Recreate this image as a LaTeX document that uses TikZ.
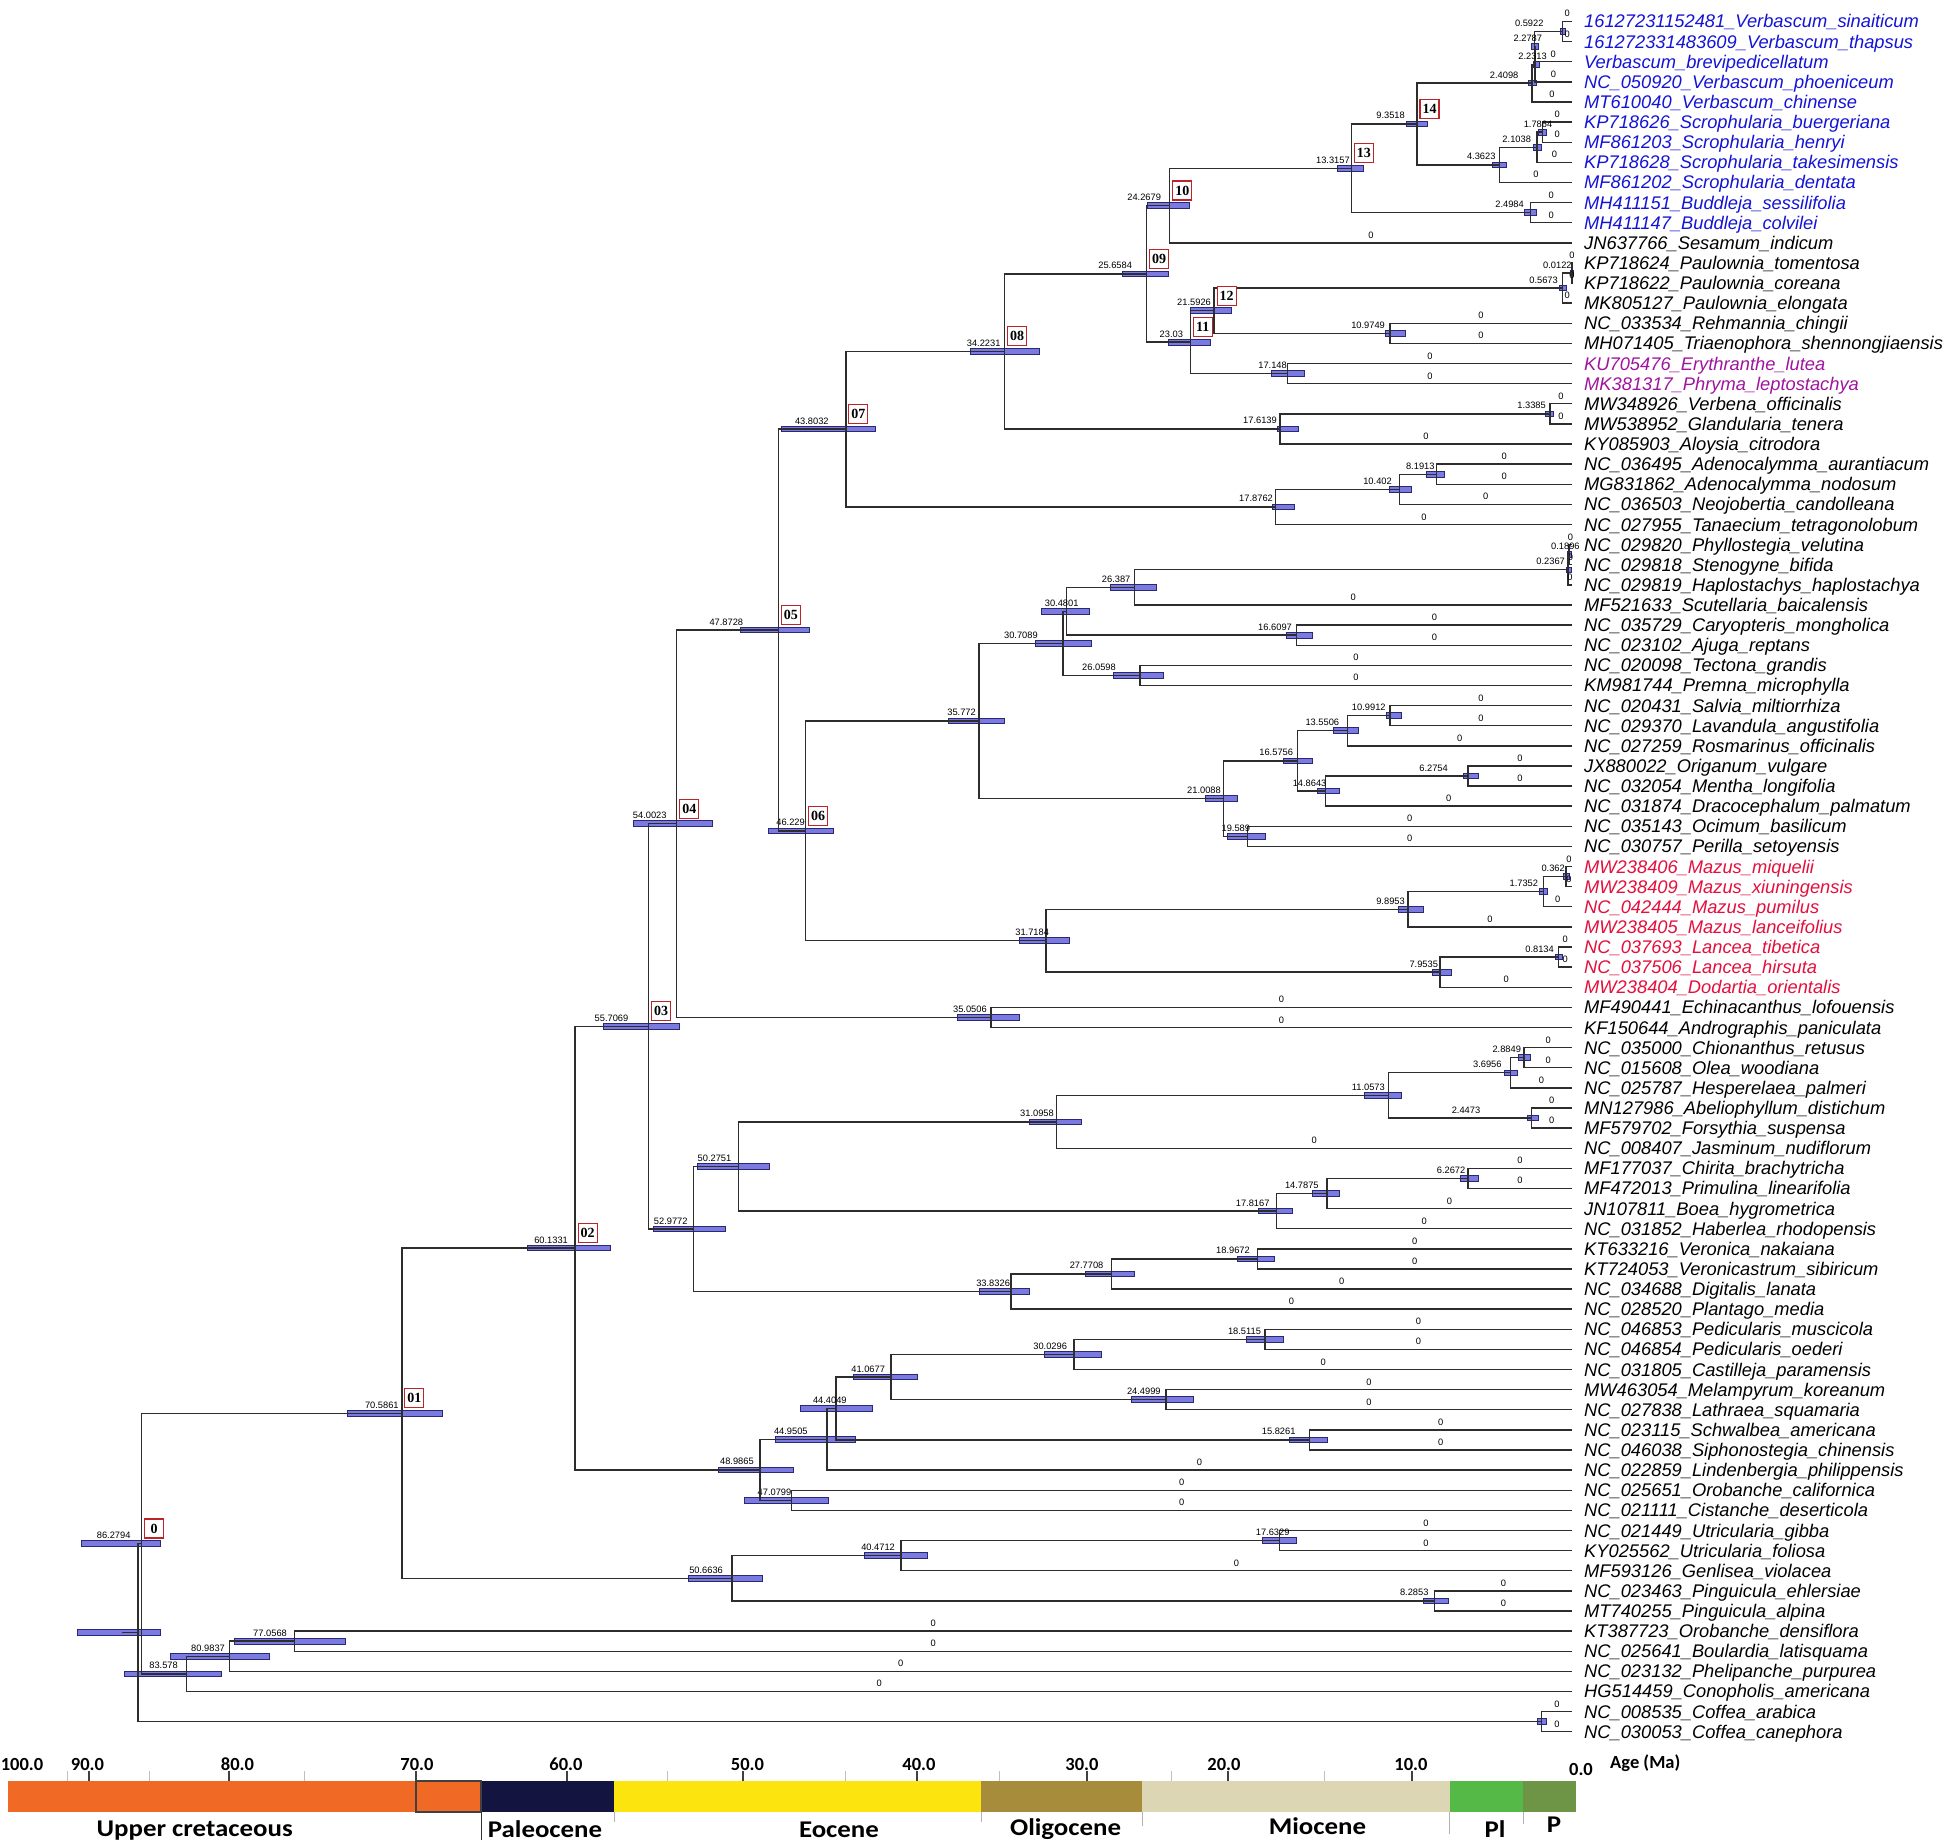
\documentclass[tikz,border=0pt]{standalone}
\usepackage{fontspec}
\setmainfont{Liberation Sans}
\newfontfamily\boxfont{Liberation Serif}
\newfontfamily\axfont{Carlito}
\newfontfamily\perfont{Carlito}[FakeStretch=1.12]
\usetikzlibrary{calc}
\pgfdeclarelayer{bgwhite}
\pgfdeclarelayer{bg}
\pgfsetlayers{bgwhite,bg,main}
\definecolor{lblue}{RGB}{20,20,215}
\definecolor{lpurp}{RGB}{160,20,160}
\definecolor{lred}{RGB}{228,15,60}
\definecolor{hpdf}{RGB}{122,122,225}
\definecolor{hpdd}{RGB}{40,40,115}
\definecolor{boxr}{RGB}{190,35,40}
\definecolor{brc}{RGB}{45,45,45}
\definecolor{gOr}{RGB}{240,106,37}
\definecolor{gNa}{RGB}{20,20,65}
\definecolor{gYe}{RGB}{252,228,15}
\definecolor{gOl}{RGB}{167,140,60}
\definecolor{gBe}{RGB}{220,214,181}
\definecolor{gGr}{RGB}{85,185,71}
\definecolor{gDg}{RGB}{110,149,70}
\tikzset{
  br/.style={draw=brc, line width=1.4pt, line join=miter},
  hpd/.style={fill=hpdf, draw=hpdd, line width=0.9pt},
  leaf/.style={anchor=base west, inner sep=0pt, font=\fontsize{18.3}{20}\selectfont\itshape},
  agel/.style={anchor=base east, inner sep=0pt, font=\fontsize{9.3}{10}\selectfont},
  zl/.style={anchor=base, inner sep=0pt, yshift=4.5pt, font=\fontsize{9.3}{10}\selectfont},
  numbox/.style={draw=boxr, line width=1.1pt, fill=white, minimum width=19pt, minimum height=19pt,
     inner sep=0pt, anchor=south west, font={\boxfont\fontsize{14}{14}\bfseries\selectfont}},
  majtick/.style={draw=black!75, line width=1.1pt},
  mintick/.style={draw=black!25, line width=0.9pt},
  ticklab/.style={anchor=base, inner sep=0pt, font={\axfont\fontsize{18.5}{20}\bfseries\selectfont}},
  perlab/.style={anchor=base, inner sep=0pt, font={\perfont\fontsize{24}{26}\bfseries\selectfont}},
}
% leaf: index, text, colour
\newcommand\TLeaf[3]{%
  \coordinate (L#1) at (1572,{21.5+20.12*(#1-1)});
  \node[leaf,text=#3] (t#1) at (1584,{21.5+20.12*(#1-1)+6.5}) {#2};
  \expandafter\gdef\csname isleaf@L#1\endcsname{}}
% internal node core: name, age, child1, child2, bar left, bar right
\newcommand\TNodeC[6]{%
  \path let \p1=($(#3)!0.5!(#4)$) in coordinate (#1) at ({(1572-16.578*#2)*1pt},\y1);
  \begin{pgfonlayer}{bg}
  \draw[hpd] let \p1=(#1) in ({#5pt},{\y1-2.8pt}) rectangle ({#6pt},{\y1+2.8pt});
  \end{pgfonlayer}
  \draw[br] (#3) -- (#1 |- #3) -- (#1 |- #4) -- (#4);
  \ifcsname isleaf@#3\endcsname \path (#1 |- #3) -- node[zl]{0} (#3);\fi
  \ifcsname isleaf@#4\endcsname \path (#1 |- #4) -- node[zl]{0} (#4);\fi}
% labelled node: + label gap
\newcommand\TNode[7]{%
  \TNodeC{#1}{#2}{#3}{#4}{#5}{#6}%
  \node[agel] (a#1) at ([xshift={-1*(#7)*1pt},yshift=5pt]#1) {#2};}
\newcommand\TBox[2]{\node[numbox] (b#1) at ([xshift=2.5pt,yshift=5pt]#1) {#2};}
\begin{document}
\begin{tikzpicture}[x=1pt,y=-1pt]
\useasboundingbox (0,0) rectangle (1944,1844);
\begin{pgfonlayer}{bgwhite}
\fill[white] (0,0) rectangle (1944,1844);
\end{pgfonlayer}
% ---------------- leaves
\TLeaf{1}{16127231152481\_Verbascum\_sinaiticum}{lblue}
\TLeaf{2}{161272331483609\_Verbascum\_thapsus}{lblue}
\TLeaf{3}{Verbascum\_brevipedicellatum}{lblue}
\TLeaf{4}{NC\_050920\_Verbascum\_phoeniceum}{lblue}
\TLeaf{5}{MT610040\_Verbascum\_chinense}{lblue}
\TLeaf{6}{KP718626\_Scrophularia\_buergeriana}{lblue}
\TLeaf{7}{MF861203\_Scrophularia\_henryi}{lblue}
\TLeaf{8}{KP718628\_Scrophularia\_takesimensis}{lblue}
\TLeaf{9}{MF861202\_Scrophularia\_dentata}{lblue}
\TLeaf{10}{MH411151\_Buddleja\_sessilifolia}{lblue}
\TLeaf{11}{MH411147\_Buddleja\_colvilei}{lblue}
\TLeaf{12}{JN637766\_Sesamum\_indicum}{black}
\TLeaf{13}{KP718624\_Paulownia\_tomentosa}{black}
\TLeaf{14}{KP718622\_Paulownia\_coreana}{black}
\TLeaf{15}{MK805127\_Paulownia\_elongata}{black}
\TLeaf{16}{NC\_033534\_Rehmannia\_chingii}{black}
\TLeaf{17}{MH071405\_Triaenophora\_shennongjiaensis}{black}
\TLeaf{18}{KU705476\_Erythranthe\_lutea}{lpurp}
\TLeaf{19}{MK381317\_Phryma\_leptostachya}{lpurp}
\TLeaf{20}{MW348926\_Verbena\_officinalis}{black}
\TLeaf{21}{MW538952\_Glandularia\_tenera}{black}
\TLeaf{22}{KY085903\_Aloysia\_citrodora}{black}
\TLeaf{23}{NC\_036495\_Adenocalymma\_aurantiacum}{black}
\TLeaf{24}{MG831862\_Adenocalymma\_nodosum}{black}
\TLeaf{25}{NC\_036503\_Neojobertia\_candolleana}{black}
\TLeaf{26}{NC\_027955\_Tanaecium\_tetragonolobum}{black}
\TLeaf{27}{NC\_029820\_Phyllostegia\_velutina}{black}
\TLeaf{28}{NC\_029818\_Stenogyne\_bifida}{black}
\TLeaf{29}{NC\_029819\_Haplostachys\_haplostachya}{black}
\TLeaf{30}{MF521633\_Scutellaria\_baicalensis}{black}
\TLeaf{31}{NC\_035729\_Caryopteris\_mongholica}{black}
\TLeaf{32}{NC\_023102\_Ajuga\_reptans}{black}
\TLeaf{33}{NC\_020098\_Tectona\_grandis}{black}
\TLeaf{34}{KM981744\_Premna\_microphylla}{black}
\TLeaf{35}{NC\_020431\_Salvia\_miltiorrhiza}{black}
\TLeaf{36}{NC\_029370\_Lavandula\_angustifolia}{black}
\TLeaf{37}{NC\_027259\_Rosmarinus\_officinalis}{black}
\TLeaf{38}{JX880022\_Origanum\_vulgare}{black}
\TLeaf{39}{NC\_032054\_Mentha\_longifolia}{black}
\TLeaf{40}{NC\_031874\_Dracocephalum\_palmatum}{black}
\TLeaf{41}{NC\_035143\_Ocimum\_basilicum}{black}
\TLeaf{42}{NC\_030757\_Perilla\_setoyensis}{black}
\TLeaf{43}{MW238406\_Mazus\_miquelii}{lred}
\TLeaf{44}{MW238409\_Mazus\_xiuningensis}{lred}
\TLeaf{45}{NC\_042444\_Mazus\_pumilus}{lred}
\TLeaf{46}{MW238405\_Mazus\_lanceifolius}{lred}
\TLeaf{47}{NC\_037693\_Lancea\_tibetica}{lred}
\TLeaf{48}{NC\_037506\_Lancea\_hirsuta}{lred}
\TLeaf{49}{MW238404\_Dodartia\_orientalis}{lred}
\TLeaf{50}{MF490441\_Echinacanthus\_lofouensis}{black}
\TLeaf{51}{KF150644\_Andrographis\_paniculata}{black}
\TLeaf{52}{NC\_035000\_Chionanthus\_retusus}{black}
\TLeaf{53}{NC\_015608\_Olea\_woodiana}{black}
\TLeaf{54}{NC\_025787\_Hesperelaea\_palmeri}{black}
\TLeaf{55}{MN127986\_Abeliophyllum\_distichum}{black}
\TLeaf{56}{MF579702\_Forsythia\_suspensa}{black}
\TLeaf{57}{NC\_008407\_Jasminum\_nudiflorum}{black}
\TLeaf{58}{MF177037\_Chirita\_brachytricha}{black}
\TLeaf{59}{MF472013\_Primulina\_linearifolia}{black}
\TLeaf{60}{JN107811\_Boea\_hygrometrica}{black}
\TLeaf{61}{NC\_031852\_Haberlea\_rhodopensis}{black}
\TLeaf{62}{KT633216\_Veronica\_nakaiana}{black}
\TLeaf{63}{KT724053\_Veronicastrum\_sibiricum}{black}
\TLeaf{64}{NC\_034688\_Digitalis\_lanata}{black}
\TLeaf{65}{NC\_028520\_Plantago\_media}{black}
\TLeaf{66}{NC\_046853\_Pedicularis\_muscicola}{black}
\TLeaf{67}{NC\_046854\_Pedicularis\_oederi}{black}
\TLeaf{68}{NC\_031805\_Castilleja\_paramensis}{black}
\TLeaf{69}{MW463054\_Melampyrum\_koreanum}{black}
\TLeaf{70}{NC\_027838\_Lathraea\_squamaria}{black}
\TLeaf{71}{NC\_023115\_Schwalbea\_americana}{black}
\TLeaf{72}{NC\_046038\_Siphonostegia\_chinensis}{black}
\TLeaf{73}{NC\_022859\_Lindenbergia\_philippensis}{black}
\TLeaf{74}{NC\_025651\_Orobanche\_californica}{black}
\TLeaf{75}{NC\_021111\_Cistanche\_deserticola}{black}
\TLeaf{76}{NC\_021449\_Utricularia\_gibba}{black}
\TLeaf{77}{KY025562\_Utricularia\_foliosa}{black}
\TLeaf{78}{MF593126\_Genlisea\_violacea}{black}
\TLeaf{79}{NC\_023463\_Pinguicula\_ehlersiae}{black}
\TLeaf{80}{MT740255\_Pinguicula\_alpina}{black}
\TLeaf{81}{KT387723\_Orobanche\_densiflora}{black}
\TLeaf{82}{NC\_025641\_Boulardia\_latisquama}{black}
\TLeaf{83}{NC\_023132\_Phelipanche\_purpurea}{black}
\TLeaf{84}{HG514459\_Conopholis\_americana}{black}
\TLeaf{85}{NC\_008535\_Coffea\_arabica}{black}
\TLeaf{86}{NC\_030053\_Coffea\_canephora}{black}
% ---------------- internal nodes
\TNode{vA}{0.5922}{L1}{L2}{1560}{1565}{18.5}
\TNode{vB}{2.2787}{vA}{L3}{1531}{1538}{-8}
\TNode{vC}{2.2313}{vB}{L4}{1533}{1539}{-12}
\TNode{vD}{2.4098}{vC}{L5}{1528}{1536}{13.5}
\TNode{sA}{1.7864}{L6}{L7}{1538}{1546}{-10}
\TNode{sB}{2.1038}{sA}{L8}{1533}{1541}{6}
\TNode{sC}{4.3623}{sB}{L9}{1492.6}{1506.6}{4}
\TNode{nXIV}{9.3518}{vD}{sC}{1406}{1427}{12}
\TNode{bA}{2.4984}{L10}{L11}{1524}{1536.5}{6.6}
\TNode{nXIII}{13.3157}{nXIV}{bA}{1337}{1363}{1.3}
\TNode{nX}{24.2679}{nXIII}{L12}{1147}{1189}{8.5}
\TNode{pA}{0.0122}{L13}{L14}{1570.5}{1573}{0}
\TNode{pB}{0.5673}{pA}{L15}{1559}{1566}{4.6}
\TNode{rA}{10.9749}{L16}{L17}{1385}{1405}{5}
\TNode{nXII}{21.5926}{pB}{rA}{1190}{1231}{3}
\TNode{eA}{17.148}{L18}{L19}{1271}{1304}{0.7}
\TNode{nXI}{23.03}{nXII}{eA}{1168}{1210}{7}
\TNode{nIX}{25.6584}{nX}{nXI}{1122}{1168}{14.5}
\TNode{veA}{1.3385}{L20}{L21}{1545}{1553}{3.8}
\TNode{veB}{17.6139}{veA}{L22}{1277}{1298}{3}
\TNode{nVIII}{34.2231}{nIX}{veB}{970}{1039}{4}
\TNode{biA}{8.1913}{L23}{L24}{1426}{1444}{1.5}
\TNode{biB}{10.402}{biA}{L25}{1389}{1411}{7.6}
\TNode{biC}{17.8762}{biB}{L26}{1272}{1294}{2.6}
\TNode{nVII}{43.8032}{nVIII}{biC}{781}{875}{17}
\TNode{laA}{0.1896}{L27}{L28}{1567}{1571}{-11}
\TNode{laB}{0.2367}{laA}{L29}{1566}{1571}{3}
\TNode{laC}{26.387}{laB}{L30}{1110}{1156}{4}
\TNode{laD}{16.6097}{L31}{L32}{1286}{1312}{4.6}
\TNode{laE}{30.4801}{laC}{laD}{1041}{1089}{-12}
\TNode{laF}{26.0598}{L33}{L34}{1113}{1163}{24}
\TNode{laG}{30.7089}{laE}{laF}{1035}{1091}{25}
\TNode{laH}{10.9912}{L35}{L36}{1386}{1401}{4}
\TNode{laI}{13.5506}{laH}{L37}{1333}{1358}{8}
\TNode{laJ}{6.2754}{L38}{L39}{1463}{1478}{20}
\TNode{laK}{14.8643}{laJ}{L40}{1317}{1339}{-1}
\TNode{laL}{16.5756}{laI}{laK}{1283}{1312}{4}
\TNode{laM}{19.589}{L41}{L42}{1227}{1265}{-3}
\TNode{laN}{21.0088}{laL}{laM}{1205}{1237}{2.7}
\TNode{laO}{35.772}{laG}{laN}{948}{1004}{3}
\TNode{mA}{0.362}{L43}{L44}{1563}{1569}{1}
\TNode{mB}{1.7352}{mA}{L45}{1539}{1547}{5}
\TNode{mC}{9.8953}{mB}{L46}{1398}{1423}{3}
\TNode{mD}{0.8134}{L47}{L48}{1555}{1562}{4.5}
\TNode{mE}{7.9535}{mD}{L49}{1432}{1451}{2}
\TNode{mF}{31.7184}{mC}{mE}{1019}{1069}{-3}
\TNode{nVI}{46.229}{laO}{mF}{768}{833}{0.6}
\TNode{nV}{47.8728}{nVII}{nVI}{740.7}{809}{35}
\TNode{acA}{35.0506}{L50}{L51}{957}{1019}{4}
\TNode{nIV}{54.0023}{nV}{acA}{633}{712}{10}
\TNode{oA}{2.8849}{L52}{L53}{1518}{1530}{3}
\TNode{oB}{3.6956}{oA}{L54}{1504}{1517}{9}
\TNode{oC}{2.4473}{L55}{L56}{1527}{1538}{51}
\TNode{oD}{11.0573}{oB}{oC}{1364}{1401}{3.7}
\TNode{oE}{31.0958}{oD}{L57}{1029}{1081}{2.5}
\TNode{gA}{6.2672}{L58}{L59}{1460}{1478}{2.6}
\TNode{gB}{14.7875}{gA}{L60}{1312}{1339}{8}
\TNode{gC}{17.8167}{gB}{L61}{1258}{1292}{7}
\TNode{gD}{50.2751}{oE}{gC}{697}{769}{7}
\TNode{plA}{18.9672}{L62}{L63}{1237}{1274}{7.6}
\TNode{plB}{27.7708}{plA}{L64}{1085}{1134}{8}
\TNode{plC}{33.8326}{plB}{L65}{979}{1029}{1}
\TNode{gE}{52.9772}{gD}{plC}{653}{725}{6}
\TNode{nIII}{55.7069}{nIV}{gE}{603}{679}{20}
\TNode{orA}{18.5115}{L66}{L67}{1246}{1283}{4}
\TNode{orB}{30.0296}{orA}{L68}{1044}{1101}{7}
\TNode{orC}{24.4999}{L69}{L70}{1131}{1193}{5}
\TNode{orD}{41.0677}{orB}{orC}{853}{917}{6}
\TNode{orE}{15.8261}{L71}{L72}{1289}{1327}{14}
\TNode{orF}{44.4049}{orD}{orE}{800}{872}{-11}
\TNode{orG}{44.9505}{orF}{L73}{775}{855}{19}
\TNode{orH}{47.0799}{L74}{L75}{744}{828}{0}
\TNode{orI}{48.9865}{orG}{orH}{718}{793}{6}
\TNode{nII}{60.1331}{nIII}{orI}{527}{610}{7}
\TNode{uA}{17.6329}{L76}{L77}{1262}{1296}{-10}
\TNode{uB}{40.4712}{uA}{L78}{864}{927}{6}
\TNode{uC}{8.2853}{L79}{L80}{1423}{1448}{6}
\TNode{uD}{50.6636}{uB}{uC}{688}{762}{9}
\TNode{nI}{70.5861}{nII}{uD}{347.5}{442}{3}
\TNode{obA}{77.0568}{L81}{L82}{234}{345.6}{7.5}
\TNode{obB}{80.9837}{obA}{L83}{170}{269}{4.4}
\TNode{obC}{83.578}{obB}{L84}{124.4}{221}{8.4}
\TNode{nO}{86.2794}{nI}{obC}{81.7}{160.7}{11}
\TNodeC{cf}{1.83}{L85}{L86}{1537}{1546}
% root
\path let \p1=($(nO)!0.5!(cf)$) in coordinate (root) at (137.8pt,\y1);
\begin{pgfonlayer}{bg}
\draw[hpd] let \p1=(root) in (77pt,{\y1-2.8pt}) rectangle (160pt,{\y1+2.8pt});
\end{pgfonlayer}
\draw[br] (nO) -- (root |- nO) -- (root |- cf) -- (cf);
\coordinate (rootstub) at ([xshift=-16pt]root);
\draw[br] (rootstub) -- (root);
% ---------------- numbered boxes
\TBox{nO}{0}
\TBox{nI}{01}
\TBox{nII}{02}
\TBox{nIII}{03}
\TBox{nIV}{04}
\TBox{nV}{05}
\TBox{nVI}{06}
\TBox{nVII}{07}
\TBox{nVIII}{08}
\TBox{nIX}{09}
\TBox{nX}{10}
\TBox{nXI}{11}
\TBox{nXII}{12}
\TBox{nXIII}{13}
\TBox{nXIV}{14}
% ---------------- geological time scale
\fill[gOr] (8,1781) rectangle (481,1812);
\fill[gNa] (481,1781) rectangle (614,1812);
\fill[gYe] (614,1781) rectangle (981,1812);
\fill[gOl] (981,1781) rectangle (1142,1812);
\fill[gBe] (1142,1781) rectangle (1449.5,1812);
\fill[gGr] (1449.5,1781) rectangle (1523,1812);
\fill[gDg] (1523,1781) rectangle (1576,1812);
\draw[draw=black!75, line width=1.2pt] (416,1781) rectangle (481,1812);
\draw[draw=black!80, line width=1pt] (481,1812) -- (481,1840);
\foreach \gx/\gl in {614/1822, 981/1822, 1142/1826, 1449.5/1834, 1523/1824}
  \draw[draw=black!30, line width=0.9pt] (\gx,1812) -- (\gx,\gl);
\foreach \tx in {89,229,416,567,743,917,1087,1228,1412}
  \draw[majtick] (\tx,1771) -- (\tx,1781);
\foreach \tx in {67.5,149,304,667.5,845,999,1171.5,1324}
  \draw[mintick] (\tx,1771) -- (\tx,1781);
\node[ticklab] (k100) at (22,1770) {100.0};
\node[ticklab] (k90) at (87.5,1770) {90.0};
\node[ticklab] (k80) at (237.5,1770) {80.0};
\node[ticklab] (k70) at (417,1770) {70.0};
\node[ticklab] (k60) at (566,1770) {60.0};
\node[ticklab] (k50) at (747.5,1770) {50.0};
\node[ticklab] (k40) at (919,1770) {40.0};
\node[ticklab] (k30) at (1082,1770) {30.0};
\node[ticklab] (k20) at (1224,1770) {20.0};
\node[ticklab] (k10) at (1411,1770) {10.0};
\node[ticklab] (k0) at (1581,1775) {0.0};
\node[ticklab, anchor=base west] (kage) at (1610,1768) {Age (Ma)};
\node[perlab] (pUC) at (194.7,1836) {Upper cretaceous};
\node[perlab] (pPa) at (545,1837) {Paleocene};
\node[perlab] (pEo) at (839,1837) {Eocene};
\node[perlab] (pOl) at (1065.6,1835) {Oligocene};
\node[perlab] (pMi) at (1317.5,1834) {Miocene};
\node[perlab] (pPl) at (1495,1837) {Pl};
\node[perlab] (pP) at (1554,1832) {P};
\end{tikzpicture}
\end{document}
